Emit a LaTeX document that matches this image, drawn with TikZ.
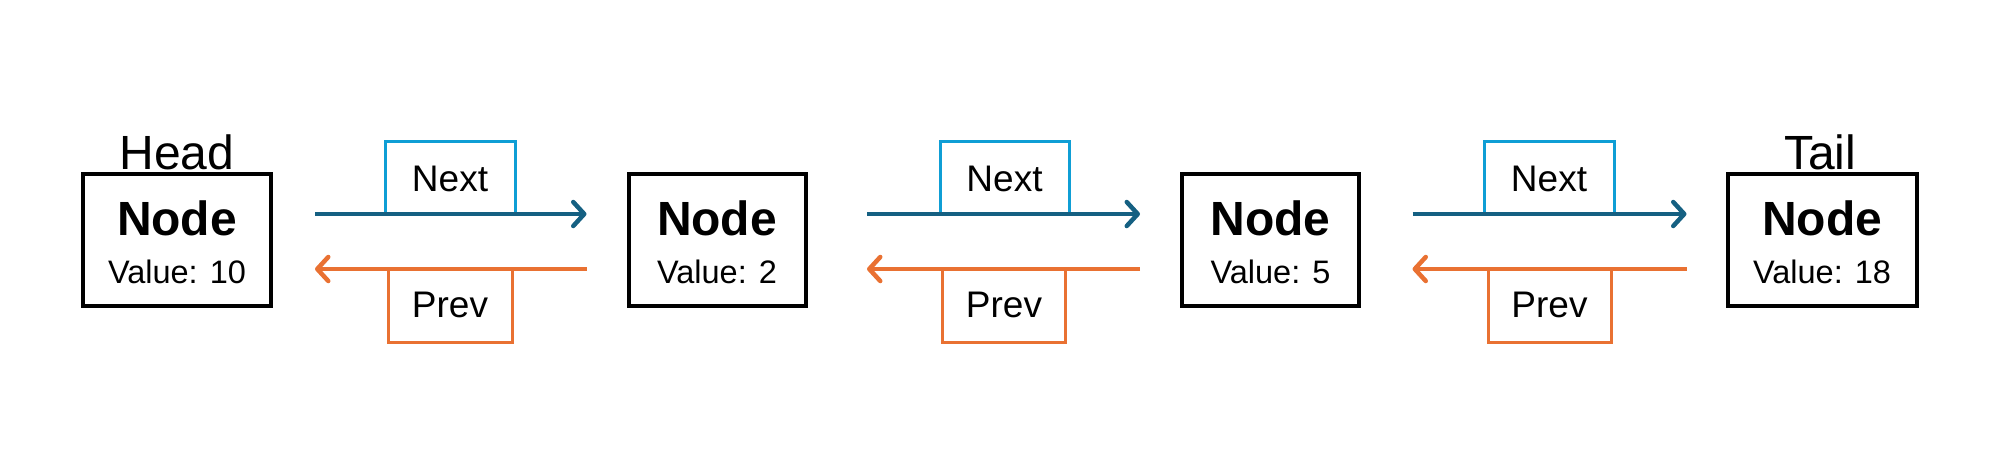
\documentclass[tikz,border=0pt]{standalone}
\usepackage{fontspec}
\setmainfont{Liberation Sans}
\usetikzlibrary{arrows.meta}
\definecolor{nextline}{HTML}{156082}
\definecolor{nextbox}{HTML}{0F9ED5}
\definecolor{prevline}{HTML}{E97132}
\begin{document}
\begin{tikzpicture}[x=1pt,y=-1pt,
  listnode/.style={draw=black,line width=4pt,minimum height=132pt,inner sep=0pt},
  title/.style={anchor=base,font=\fontsize{48}{48}\selectfont,inner sep=0pt},
  nodetext/.style={anchor=base,font=\fontsize{48}{48}\selectfont\bfseries,inner sep=0pt},
  valtext/.style={anchor=base,font=\fontsize{32.5}{32.5}\selectfont,inner sep=0pt},
  nextlab/.style={draw=nextbox,line width=3pt,minimum height=73pt,inner sep=0pt},
  prevlab/.style={draw=prevline,line width=3pt,minimum height=73pt,inner sep=0pt},
  labtext/.style={anchor=base,font=\fontsize{37}{37}\selectfont,inner sep=0pt},
  nextarrow/.style={draw=nextline,line width=4.5pt,-{Straight Barb[length=11pt,width=24pt,round]}},
  prevarrow/.style={draw=prevline,line width=4.5pt,-{Straight Barb[length=11pt,width=24pt,round]}},
]
\useasboundingbox (0,0) rectangle (2008,448);
% list nodes
\node[listnode,minimum width=188pt] (n1) at (177,240) {};
\node[listnode,minimum width=177pt] (n2) at (717,240) {};
\node[listnode,minimum width=177pt] (n3) at (1270.5,240) {};
\node[listnode,minimum width=189pt] (n4) at (1822,240) {};
\node[title] (head) at (177,169) {Head};
\node[title] (tail) at (1820,169) {Tail};
\foreach \n/\x/\v in {1/177/10, 2/717/2, 3/1270.5/5, 4/1822/18}{
  \node[nodetext] (t\n) at (\x,235) {Node};
  \node[valtext] (v\n) at (\x,283) {Value: \v};
}
% label boxes
\node[nextlab,minimum width=130pt] (nb1) at (450,177.5) {};
\node[nextlab,minimum width=129pt] (nb2) at (1004.5,177.5) {};
\node[nextlab,minimum width=130pt] (nb3) at (1549,177.5) {};
\node[prevlab,minimum width=124pt] (pb1) at (450,305.5) {};
\node[prevlab,minimum width=123pt] (pb2) at (1004,305.5) {};
\node[prevlab,minimum width=123pt] (pb3) at (1549.5,305.5) {};
\foreach \i/\x/\px in {1/450/450, 2/1004.5/1004, 3/1549/1549.5}{
  \node[labtext] (nt\i) at (\x,191) {Next};
  \node[labtext] (pt\i) at (\px,317) {Prev};
}
% arrow end points
\coordinate (a1s) at (315,214);   \coordinate (a1e) at (586.5,214);
\coordinate (a2s) at (867,214);   \coordinate (a2e) at (1140,214);
\coordinate (a3s) at (1412.5,214);\coordinate (a3e) at (1686.5,214);
\coordinate (b1s) at (586.5,269); \coordinate (b1e) at (315,269);
\coordinate (b2s) at (1140,269);  \coordinate (b2e) at (867,269);
\coordinate (b3s) at (1686.5,269);\coordinate (b3e) at (1412.5,269);
\draw[nextarrow] (a1s) -- (a1e);
\draw[nextarrow] (a2s) -- (a2e);
\draw[nextarrow] (a3s) -- (a3e);
\draw[prevarrow] (b1s) -- (b1e);
\draw[prevarrow] (b2s) -- (b2e);
\draw[prevarrow] (b3s) -- (b3e);
\end{tikzpicture}
\end{document}
